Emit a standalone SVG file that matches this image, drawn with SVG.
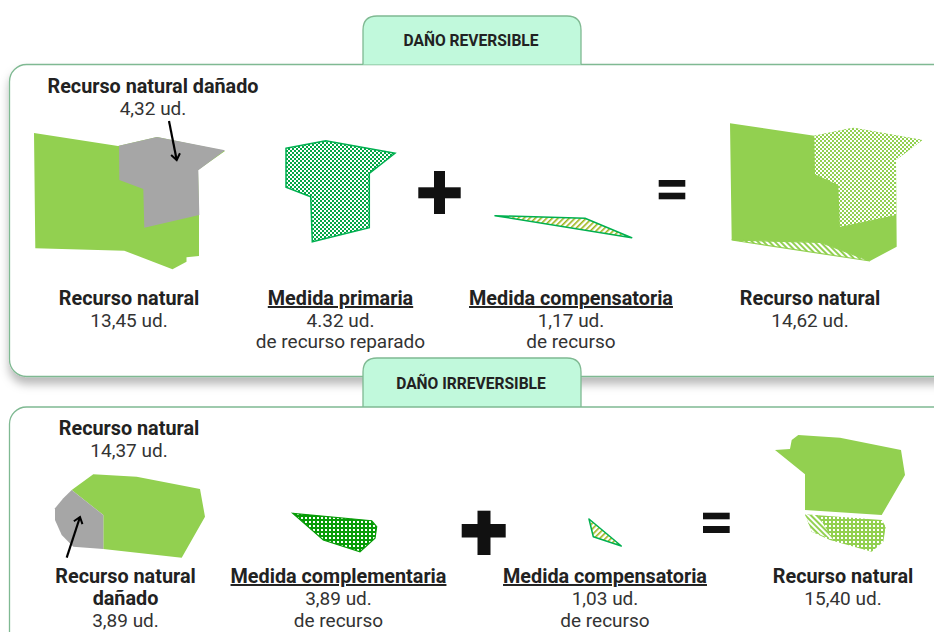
<svg xmlns="http://www.w3.org/2000/svg" width="934" height="632" viewBox="0 0 934 632">
<defs>
<style>
.t{font-family:Roboto,"Liberation Sans",sans-serif;text-anchor:middle;}
.b{font-weight:bold;font-size:19.8px;fill:#222;}
.r{font-weight:normal;font-size:19px;fill:#333;}
.u{text-decoration:underline;}
.tab{font-weight:bold;font-size:15.6px;fill:#222;}
.box{fill:#fff;stroke:#7fb992;stroke-width:1.3;}
.tabs{fill:#c1f9dc;stroke:#7fb992;stroke-width:1.3;}
.g{fill:#92d050;}
.gr{fill:#a6a6a6;}
.k{fill:#111;}
.conn{fill:none;stroke:#000;stroke-width:2.2;}
</style>
<filter id="sh" x="-5%" y="-10%" width="110%" height="125%">
<feDropShadow dx="0" dy="7" stdDeviation="5" flood-color="#000" flood-opacity="0.28"/>
</filter>
<pattern id="chkDark" width="4" height="4" patternUnits="userSpaceOnUse">
<rect width="4" height="4" fill="#fff"/>
<rect width="2" height="2" fill="#03a545"/>
<rect x="2" y="2" width="2" height="2" fill="#03a545"/>
</pattern>
<pattern id="chkLight" width="4" height="4" patternUnits="userSpaceOnUse">
<rect width="4" height="4" fill="#fff"/>
<rect width="2" height="2" fill="#92d050"/>
<rect x="2" y="2" width="2" height="2" fill="#92d050"/>
</pattern>
<pattern id="hatchOlive" width="4" height="4" patternUnits="userSpaceOnUse" patternTransform="rotate(45)">
<rect width="4" height="4" fill="#fff"/>
<rect width="1.6" height="4" fill="#9fb41a"/>
</pattern>
<pattern id="hatchGreen" width="4" height="4" patternUnits="userSpaceOnUse" patternTransform="rotate(-45)">
<rect width="4" height="4" fill="#fff"/>
<rect width="2" height="4" fill="#92d050"/>
</pattern>
<pattern id="dotDark" width="4" height="4" patternUnits="userSpaceOnUse">
<rect width="4" height="4" fill="#079c07"/>
<rect x="1" y="1" width="2" height="2" fill="#fff"/>
</pattern>
<pattern id="dotLight" width="4" height="4" patternUnits="userSpaceOnUse">
<rect width="4" height="4" fill="#92d050"/>
<rect x="1" y="1" width="2" height="2" fill="#fff"/>
</pattern>
<marker id="arr" markerWidth="12" markerHeight="12" refX="9" refY="6" orient="auto" markerUnits="userSpaceOnUse">
<path d="M3,1.5 L9,6 L3,10.5" fill="none" stroke="#000" stroke-width="2"/>
</marker>
</defs>

<g id="panel-reversible">
<rect class="box" x="9.5" y="64.5" width="960" height="312" rx="17" filter="url(#sh)"/>
<path class="tabs" d="M363,64.5 V30 Q363,16 377,16 H567 Q581,16 581,30 V64.5"/>
<text class="t tab" x="471" y="46">DAÑO REVERSIBLE</text>
</g>

<g id="panel-irreversible">
<path class="tabs" d="M363,407 V372 Q363,358 377,358 H567 Q581,358 581,372 V407"/>
<rect class="box" x="9.5" y="407" width="960" height="280" rx="17"/>
<text class="t tab" x="471" y="389">DAÑO IRREVERSIBLE</text>
</g>

<g id="rev-recurso-natural">
<polygon class="g" points="34,133 118,146 157,137 225,151 198,170 199,215 199,256 186.5,257.3 186.5,261.7 172.5,269.3 124.3,250.7 35.3,248.3"/>
<polygon class="gr" points="119,145.7 157,137 225,150.3 198.3,170.3 199.3,215 144.3,227.7 143.3,189 119.3,180"/>
<text class="t b" x="129" y="305">Recurso natural</text>
<text class="t r" x="129" y="327">13,45 ud.</text>
</g>

<g id="rev-recurso-danado">
<text class="t b" x="153" y="93">Recurso natural dañado</text>
<text class="t r" x="153" y="115">4,32 ud.</text>
</g>

<g id="rev-medida-primaria">
<polygon points="286,148.3 325.7,140.7 395,153.3 369.3,173.3 369.3,227.7 312.3,241.7 310.7,196.7 286,187.3" fill="url(#chkDark)" stroke="#00b050" stroke-width="1.5"/>
<text class="t b u" x="340.5" y="305">Medida primaria</text>
<text class="t r" x="340.5" y="327">4.32 ud.</text>
<text class="t r" x="340.5" y="348">de recurso reparado</text>
</g>

<g id="rev-plus">
<rect class="k" x="418.3" y="187.3" width="42.4" height="11"/>
<rect class="k" x="434" y="171" width="11" height="43"/>
</g>

<g id="rev-medida-compensatoria">
<polygon points="495,215.7 585,218.3 631.7,237.7" fill="url(#hatchOlive)" stroke="#00b050" stroke-width="1.5" stroke-linejoin="round"/>
<text class="t b u" x="571" y="305">Medida compensatoria</text>
<text class="t r" x="571" y="327">1,17 ud.</text>
<text class="t r" x="571" y="348">de recurso</text>
</g>

<g id="rev-equals">
<rect class="k" x="658.7" y="180" width="26.6" height="6.7"/>
<rect class="k" x="658.7" y="192.7" width="26.6" height="6.6"/>
</g>

<g id="rev-resultado">
<polygon class="g" points="730,123.3 814.3,135.7 853.3,127.7 922.3,140 896,160 896.7,246.7 870,261 820,242.3 731.7,240"/>
<polygon points="814.3,135.7 853.3,127.7 922.3,140 896,160 896,215 840,226.7 838.3,185 815,174.3" fill="url(#chkLight)"/>
<polygon points="731.7,240 820,242.3 870,261" fill="url(#hatchGreen)" stroke="#92d050" stroke-width="1.2"/>
<text class="t b" x="810" y="305">Recurso natural</text>
<text class="t r" x="810" y="327">14,62 ud.</text>
</g>

<g id="irr-recurso-natural">
<polygon class="g" points="71.7,490 93.3,474.3 136.7,476.7 200,489 205,516.7 181.7,557.7 103.3,549 103.3,515"/>
<text class="t b" x="129" y="435">Recurso natural</text>
<text class="t r" x="129" y="457">14,37 ud.</text>
</g>

<g id="irr-recurso-danado">
<polygon class="gr" points="71.7,490 103.3,515 103.3,549 73.3,546.7 61.7,535 55,520 55,508.3 63.3,498.3"/>
<text class="t b" x="125.5" y="583">Recurso natural</text>
<text class="t b" x="125.5" y="605">dañado</text>
<text class="t r" x="125.5" y="627">3,89 ud.</text>
</g>

<g id="irr-medida-complementaria">
<polygon points="292.7,513.3 371.7,520.7 376.7,526.7 375,538.3 360,551.7 323.3,540" fill="url(#dotDark)" stroke="#079c07" stroke-width="1.2"/>
<text class="t b u" x="338.5" y="583">Medida complementaria</text>
<text class="t r" x="338.5" y="605">3,89 ud.</text>
<text class="t r" x="338.5" y="627">de recurso</text>
</g>

<g id="irr-plus">
<rect class="k" x="461.7" y="524" width="44" height="13.5"/>
<rect class="k" x="477.5" y="510.7" width="13" height="44.3"/>
</g>

<g id="irr-medida-compensatoria">
<polygon points="589,519 621.3,546 593.3,536.7" fill="url(#hatchOlive)" stroke="#00b050" stroke-width="1.5" stroke-linejoin="round"/>
<text class="t b u" x="605" y="583">Medida compensatoria</text>
<text class="t r" x="605" y="605">1,03 ud.</text>
<text class="t r" x="605" y="627">de recurso</text>
</g>

<g id="irr-equals">
<rect class="k" x="703" y="512.7" width="26.7" height="6.6"/>
<rect class="k" x="703" y="526" width="26.7" height="7"/>
</g>

<g id="irr-resultado">
<polygon class="g" points="775,450 790,449 791.7,440 798.3,435 840,437.7 901,450 905,475 881.7,515 805,510 805,474.3"/>
<polygon points="805,514.3 881.7,520 885.7,526.7 883.3,541.7 871.7,551.7 830,540 811.7,531.7" fill="url(#dotLight)"/>
<polygon points="805,514.3 818,515.3 833,539.5 811.7,531.7" fill="url(#hatchGreen)"/>
<text class="t b" x="843" y="583">Recurso natural</text>
<text class="t r" x="843" y="605">15,40 ud.</text>
</g>

<g id="connectors">
<line class="conn" x1="169" y1="121" x2="176.7" y2="160" marker-end="url(#arr)"/>
<line class="conn" x1="66.7" y1="557.7" x2="80" y2="517" marker-end="url(#arr)"/>
</g>
</svg>
